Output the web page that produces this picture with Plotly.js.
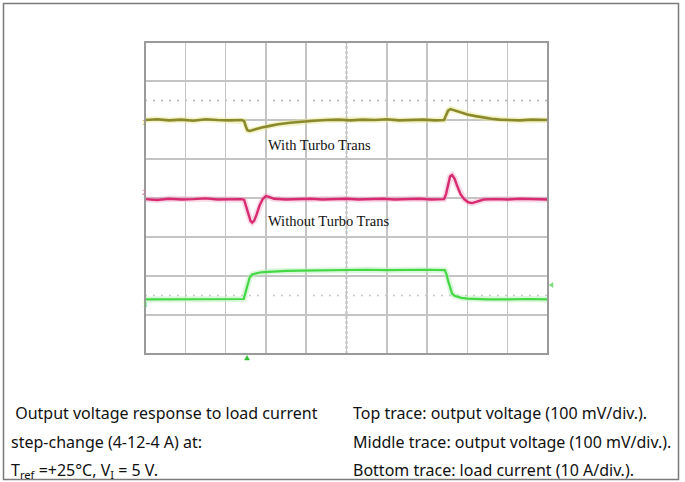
<!DOCTYPE html>
<html>
<head>
<meta charset="utf-8">
<script src="https://cdn.plot.ly/plotly-3.0.1.min.js"></script>
<style>
  html, body { margin: 0; padding: 0; background: #ffffff; }
  #chart { width: 685px; height: 482px; }
</style>
</head>
<body>
<div id="chart"></div>
<script>
// ---- Data (time and amplitude in scope divisions) ----
const topTime = [0,0.3,0.6,0.9,1.2,1.5,1.8,2.1,2.4,2.46,2.5,2.54,2.6,2.66,2.75,2.9,3.1,3.3,3.6,3.9,4.2,4.5,4.8,5.1,5.4,5.7,6.0,6.3,6.6,6.9,7.2,7.42,7.47,7.52,7.58,7.7,7.85,8.0,8.2,8.4,8.6,8.8,9.0,9.3,9.6,10];
const topVolt = [6.0,6.02,5.99,6.01,5.98,6.02,6.0,5.99,6.0,5.97,5.84,5.74,5.72,5.74,5.77,5.81,5.85,5.89,5.93,5.96,5.98,6.0,6.01,5.99,6.01,6.0,6.02,5.99,6.0,6.01,5.99,6.0,6.12,6.24,6.28,6.24,6.19,6.14,6.1,6.06,6.03,6.01,6.0,5.99,6.01,6.0];

const midTime = [0,0.3,0.6,0.9,1.2,1.5,1.8,2.1,2.4,2.46,2.5,2.54,2.58,2.62,2.66,2.71,2.77,2.84,2.92,3.0,3.08,3.2,3.5,3.8,4.1,4.4,4.7,5.0,5.3,5.6,5.9,6.2,6.5,6.8,7.1,7.42,7.47,7.52,7.57,7.62,7.68,7.75,7.83,7.92,8.02,8.12,8.25,8.4,8.7,9.0,9.3,9.6,10];
const midVolt = [3.97,3.95,3.98,3.96,3.97,3.99,3.96,3.97,3.97,3.95,3.82,3.65,3.5,3.41,3.37,3.42,3.58,3.8,3.97,4.05,4.03,3.98,3.96,3.97,3.98,3.96,3.97,3.98,3.96,3.97,3.98,3.96,3.97,3.98,3.96,3.97,4.1,4.35,4.55,4.59,4.5,4.3,4.1,3.97,3.89,3.87,3.91,3.96,3.97,3.96,3.98,3.97,3.96];

const botTime = [0,0.5,1.0,1.5,2.0,2.45,2.5,2.55,2.6,2.66,2.75,2.85,2.95,3.2,3.5,3.9,4.5,5.0,5.5,6.0,6.5,7.0,7.44,7.48,7.52,7.57,7.62,7.68,7.76,7.85,8.0,8.2,8.5,9.0,9.5,10];
const botCurr = [1.40,1.40,1.41,1.40,1.40,1.41,1.60,1.82,1.97,2.04,2.07,2.09,2.10,2.12,2.13,2.14,2.15,2.15,2.16,2.15,2.16,2.16,2.15,2.05,1.88,1.68,1.55,1.49,1.46,1.44,1.42,1.41,1.40,1.40,1.41,1.40];

const traceNames = ["Top trace", "Middle trace", "Bottom trace"];
const annoWith = "With Turbo Trans";
const annoWithout = "Without Turbo Trans";
const captionLeft = [" Output voltage response to load current", "step-change (4-12-4 A) at:", "T<sub>ref</sub> =+25°C, V<sub>I</sub> = 5 V."];
const captionRight = ["Top trace: output voltage (100 mV/div.).", "Middle trace: output voltage (100 mV/div.).", "Bottom trace: load current (10 A/div.)."];

// ---- Layout helpers (pixel -> paper) ----
const L = 145, R = 548, T = 42, B = 354;
const px = x => (x - L) / (R - L);
const py = y => (B - y) / (B - T);

const colTop = "#8a8a2c", colMid = "#d82a70", colBot = "#44d844";

function tr(x, y, color, width, opacity, name) {
  return { x: x, y: y, type: "scatter", mode: "lines", name: name,
           line: { color: color, width: width, shape: "linear" },
           opacity: opacity, hoverinfo: "skip", showlegend: false };
}

const data = [
  tr(topTime, topVolt, "#e6e68a", 6, 0.45, traceNames[0]),
  tr(midTime, midVolt, "#f0a0c0", 6, 0.4, traceNames[1]),
  tr(botTime, botCurr, "#b8f0b8", 6, 0.5, traceNames[2]),
  tr(topTime, topVolt, colTop, 2.6, 1, traceNames[0]),
  tr(midTime, midVolt, colMid, 2.4, 1, traceNames[1]),
  tr(botTime, botCurr, colBot, 2.2, 1, traceNames[2])
];

function tri(pts, color) {
  const path = "M" + pts.map(p => px(p[0]) + "," + py(p[1])).join(" L") + " Z";
  return { type: "path", xref: "paper", yref: "paper", path: path, fillcolor: color, line: { color: color, width: 0.5 } };
}

const shapes = [
  // dotted half-division rows
  { type: "line", xref: "x", yref: "y", x0: 0, x1: 10, y0: 6.5, y1: 6.5, line: { color: "#b8b8b8", width: 1.5, dash: "2px,6px" }, layer: "below" },
  { type: "line", xref: "x", yref: "y", x0: 0, x1: 10, y0: 1.5, y1: 1.5, line: { color: "#c8c8c8", width: 1.5, dash: "2px,6px" }, layer: "below" },
  // center vertical graticule
  { type: "line", xref: "x", yref: "y", x0: 5, x1: 5, y0: 0, y1: 8, line: { color: "#707070", width: 1.5, dash: "3px,2px" }, layer: "below" },
  // plot frame
  { type: "rect", xref: "paper", yref: "paper", x0: 0, x1: 1, y0: 0, y1: 1, line: { color: "#9a9a9a", width: 2 } },
  // outer image frame
  { type: "rect", xref: "paper", yref: "paper", x0: px(3.5), x1: px(678.5), y0: py(479.5), y1: py(3.5), line: { color: "#7a7a7a", width: 1.5 } },
  // trigger position marker (bottom) and trigger level marker (right)
  tri([[244.5, 360], [249.5, 360], [247, 355.5]], "#2fc02f"),
  tri([[549, 285], [553, 282.5], [553, 287.5]], "#7fdc7f")
];

const annotations = [
  { xref: "paper", yref: "paper", x: px(266), y: py(145), xanchor: "left", yanchor: "middle", text: annoWith, showarrow: false,
    font: { family: "Liberation Serif, Times New Roman, serif", size: 14.5, color: "#111" } },
  { xref: "paper", yref: "paper", x: px(266), y: py(221), xanchor: "left", yanchor: "middle", text: annoWithout, showarrow: false,
    font: { family: "Liberation Serif, Times New Roman, serif", size: 14.5, color: "#111" } },
  // channel markers
  { xref: "paper", yref: "paper", x: px(140), y: py(117), text: "1", showarrow: false, font: { family: "DejaVu Sans", size: 7, color: "#9a9a50" } },
  { xref: "paper", yref: "paper", x: px(140), y: py(193), text: "2", showarrow: false, font: { family: "DejaVu Sans", size: 7, color: "#d07aa0" } },
  { xref: "paper", yref: "paper", x: px(141), y: py(311), text: "3", showarrow: false, font: { family: "DejaVu Sans", size: 7, color: "#60cc60" } }
];

const rowsY = [413, 442, 470];
captionLeft.forEach((t, i) => annotations.push({
  xref: "paper", yref: "paper", x: px(9), y: py(rowsY[i]), xanchor: "left", yanchor: "middle",
  text: t, showarrow: false, font: { family: "Noto Sans, sans-serif", size: 16, color: "#111" }
}));
captionRight.forEach((t, i) => annotations.push({
  xref: "paper", yref: "paper", x: px(351), y: py(rowsY[i]), xanchor: "left", yanchor: "middle",
  text: t, showarrow: false, font: { family: "Noto Sans, sans-serif", size: 16, color: "#111" }
}));

const axisCommon = { showticklabels: false, ticks: "", zeroline: false, showline: false,
  showgrid: true, gridcolor: "#c4c4c4", gridwidth: 1.5, dtick: 1, tick0: 0, fixedrange: true };

const layout = {
  width: 685, height: 482,
  margin: { l: L, r: 685 - R, t: T, b: 482 - B, pad: 0 },
  paper_bgcolor: "#ffffff", plot_bgcolor: "#ffffff",
  xaxis: Object.assign({}, axisCommon, { range: [0, 10] }),
  yaxis: Object.assign({}, axisCommon, { range: [0, 8] }),
  shapes: shapes, annotations: annotations, showlegend: false
};

Plotly.newPlot("chart", data, layout, { staticPlot: true, displayModeBar: false });
</script>
</body>
</html>
